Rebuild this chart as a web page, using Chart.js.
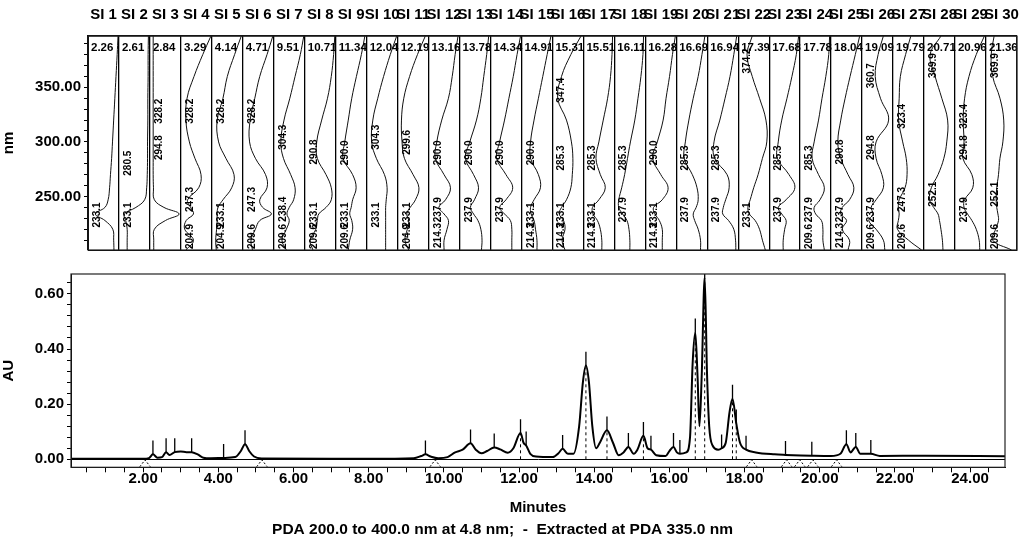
<!DOCTYPE html>
<html>
<head>
<meta charset="utf-8">
<script src="https://cdn.jsdelivr.net/npm/chart.js@4.4.1/dist/chart.umd.min.js"></script>
<style>
  html, body { margin: 0; padding: 0; background: #fff; }
  #wrap { position: relative; width: 1023px; height: 542px; }
  #top { position: absolute; left: 0; top: 0; width: 1023px; height: 262px; }
  #bottom { position: absolute; left: 0; top: 262px; width: 1023px; height: 280px; }
</style>
</head>
<body>
<div id="wrap">
  <div id="top"><canvas id="spec"></canvas></div>
  <div id="bottom"><canvas id="chrom"></canvas></div>
</div>
<script>
// retention times of the 30 integrated peaks (also the spectrum boxes)
const peakTimes = [2.26, 2.61, 2.84, 3.29, 4.14, 4.71, 9.51, 10.71, 11.34, 12.04,
  12.19, 13.16, 13.78, 14.34, 14.91, 15.31, 15.51, 16.11, 16.28, 16.69,
  16.94, 17.39, 17.68, 17.78, 18.04, 19.09, 19.79, 20.71, 20.96, 21.36];
// trace height at each peak
const peakAU = [0.018, 0.026, 0.026, 0.026, 0.005, 0.055, 0.018, 0.058, 0.043, 0.095,
  0.05, 0.038, 0.34, 0.105, 0.045, 0.085, 0.035, 0.045, 0.02, 0.46,
  0.66, 0.04, 0.22, 0.13, 0.035, 0.016, 0.013, 0.055, 0.045, 0.02];
const siLabels = peakTimes.map((t, i) => "SI " + (i + 1));

// chromatogram (minutes, AU)
const traceTime = [0.08, 2.0, 2.15, 2.26, 2.38, 2.5, 2.61, 2.7, 2.84, 3.0,
  3.15, 3.29, 3.45, 3.6, 3.8, 4.14, 4.45, 4.6, 4.71, 4.82,
  4.95, 5.15, 7.0, 8.0, 9.2, 9.4, 9.51, 9.65, 9.85, 10.1,
  10.3, 10.5, 10.71, 10.85, 11.0, 11.15, 11.34, 11.5, 11.7, 11.85,
  12.04, 12.12, 12.19, 12.3, 12.45, 12.9, 13.05, 13.16, 13.3, 13.45,
  13.6, 13.7, 13.78, 13.86, 13.95, 14.05, 14.15, 14.34, 14.5, 14.65,
  14.78, 14.91, 15.05, 15.15, 15.31, 15.42, 15.51, 15.65, 15.9, 16.0,
  16.11, 16.2, 16.28, 16.45, 16.55, 16.62, 16.69, 16.75, 16.8, 16.86,
  16.94, 17.0, 17.06, 17.15, 17.3, 17.39, 17.5, 17.6, 17.68, 17.78,
  17.88, 18.04, 18.3, 18.8, 19.09, 19.5, 19.79, 20.3, 20.55, 20.71,
  20.82, 20.96, 21.08, 21.36, 21.6, 22.8, 24.93];
const traceAU = [0.002, 0.002, 0.004, 0.018, 0.006, 0.008, 0.026, 0.016, 0.026, 0.028,
  0.026, 0.026, 0.018, 0.006, 0.004, 0.005, 0.008, 0.03, 0.055, 0.03,
  0.01, 0.003, 0.002, 0.002, 0.004, 0.012, 0.018, 0.01, 0.004, 0.008,
  0.025, 0.035, 0.058, 0.035, 0.022, 0.03, 0.043, 0.036, 0.024, 0.04,
  0.095, 0.06, 0.05, 0.02, 0.01, 0.008, 0.022, 0.038, 0.02, 0.02,
  0.12, 0.28, 0.34, 0.28, 0.12, 0.04, 0.06, 0.105, 0.06, 0.015,
  0.025, 0.045, 0.02, 0.035, 0.085, 0.04, 0.035, 0.015, 0.012, 0.03,
  0.045, 0.025, 0.02, 0.025, 0.08, 0.35, 0.46, 0.3, 0.12, 0.3,
  0.66, 0.32, 0.12, 0.05, 0.035, 0.04, 0.06, 0.17, 0.22, 0.13,
  0.06, 0.035, 0.025, 0.018, 0.016, 0.014, 0.013, 0.012, 0.02, 0.055,
  0.025, 0.045, 0.02, 0.02, 0.012, 0.013, 0.011];

// dotted baseline triangles drawn under the zero line (centre times)
const baseMarkTimes = [2.05, 5.16, 9.77, 18.19, 19.12, 19.47, 19.82, 20.45];

// UV spectra: relative absorbance (0 = right edge of box, 1 = left edge) at these wavelengths
const specWl = [397, 380, 360, 340, 320, 300, 285, 270, 258, 247, 240, 234, 228, 220, 210, 201];
const spectra = [
  [0.00, 0.03, 0.07, 0.11, 0.15, 0.19, 0.22, 0.26, 0.29, 0.34, 0.45, 0.78, 0.45, 0.18, 0.15, 0.14],
  [0.02, 0.03, 0.03, 0.04, 0.04, 0.05, 0.05, 0.06, 0.08, 0.15, 0.45, 0.85, 0.80, 0.75, 0.75, 0.75],
  [0.92, 0.92, 0.92, 0.92, 0.92, 0.92, 0.92, 0.92, 0.91, 0.88, 0.55, 0.03, 0.50, 0.88, 0.90, 0.90],
  [0.00, 0.28, 0.58, 0.82, 0.86, 0.74, 0.55, 0.34, 0.42, 0.80, 0.70, 0.60, 0.85, 0.90, 0.60, 0.85],
  [0.02, 0.25, 0.50, 0.65, 0.85, 0.80, 0.55, 0.27, 0.35, 0.65, 0.82, 0.85, 0.85, 0.87, 0.90, 0.88],
  [0.00, 0.20, 0.45, 0.62, 0.78, 0.80, 0.60, 0.25, 0.20, 0.45, 0.35, 0.05, 0.45, 0.60, 0.75, 0.70],
  [0.00, 0.12, 0.30, 0.48, 0.68, 0.79, 0.70, 0.45, 0.30, 0.35, 0.50, 0.58, 0.50, 0.60, 0.75, 0.60],
  [0.00, 0.04, 0.12, 0.25, 0.45, 0.62, 0.60, 0.30, 0.12, 0.12, 0.30, 0.55, 0.60, 0.65, 0.85, 0.75],
  [0.03, 0.15, 0.32, 0.48, 0.60, 0.72, 0.78, 0.45, 0.33, 0.45, 0.50, 0.55, 0.48, 0.45, 0.55, 0.60],
  [0.00, 0.22, 0.45, 0.65, 0.82, 0.86, 0.70, 0.42, 0.33, 0.36, 0.38, 0.38, 0.38, 0.38, 0.38, 0.38],
  [0.08, 0.35, 0.62, 0.82, 0.90, 0.88, 0.80, 0.50, 0.30, 0.42, 0.60, 0.72, 0.65, 0.70, 0.78, 0.65],
  [0.02, 0.12, 0.22, 0.35, 0.58, 0.75, 0.80, 0.50, 0.28, 0.45, 0.68, 0.50, 0.35, 0.40, 0.50, 0.50],
  [0.03, 0.10, 0.20, 0.30, 0.45, 0.68, 0.83, 0.55, 0.38, 0.52, 0.66, 0.55, 0.40, 0.30, 0.26, 0.28],
  [0.00, 0.12, 0.25, 0.40, 0.55, 0.72, 0.82, 0.50, 0.27, 0.50, 0.72, 0.55, 0.35, 0.30, 0.30, 0.30],
  [0.02, 0.15, 0.30, 0.45, 0.60, 0.72, 0.72, 0.45, 0.38, 0.60, 0.72, 0.70, 0.60, 0.55, 0.50, 0.50],
  [0.05, 0.40, 0.72, 0.85, 0.55, 0.38, 0.33, 0.35, 0.40, 0.55, 0.72, 0.80, 0.65, 0.60, 0.70, 0.60],
  [0.03, 0.05, 0.10, 0.20, 0.35, 0.50, 0.60, 0.45, 0.28, 0.50, 0.72, 0.70, 0.55, 0.45, 0.40, 0.40],
  [0.03, 0.05, 0.12, 0.22, 0.33, 0.48, 0.58, 0.68, 0.78, 0.88, 0.88, 0.75, 0.60, 0.53, 0.50, 0.50],
  [0.00, 0.10, 0.20, 0.32, 0.42, 0.62, 0.78, 0.50, 0.25, 0.45, 0.75, 0.70, 0.55, 0.45, 0.45, 0.45],
  [0.05, 0.15, 0.28, 0.45, 0.60, 0.72, 0.76, 0.48, 0.32, 0.28, 0.35, 0.45, 0.40, 0.28, 0.20, 0.20],
  [0.02, 0.12, 0.25, 0.42, 0.60, 0.80, 0.78, 0.35, 0.28, 0.40, 0.48, 0.50, 0.30, 0.12, 0.06, 0.05],
  [0.55, 0.73, 0.55, 0.30, 0.08, 0.05, 0.20, 0.35, 0.50, 0.62, 0.70, 0.65, 0.45, 0.30, 0.20, 0.10],
  [0.02, 0.10, 0.25, 0.42, 0.60, 0.72, 0.75, 0.35, 0.15, 0.45, 0.72, 0.60, 0.45, 0.50, 0.55, 0.55],
  [0.02, 0.05, 0.15, 0.28, 0.40, 0.55, 0.62, 0.40, 0.20, 0.35, 0.55, 0.50, 0.30, 0.25, 0.25, 0.20],
  [0.05, 0.20, 0.38, 0.55, 0.70, 0.80, 0.70, 0.45, 0.25, 0.40, 0.65, 0.70, 0.50, 0.65, 0.40, 0.45],
  [0.30, 0.48, 0.58, 0.40, 0.12, 0.55, 0.55, 0.35, 0.30, 0.55, 0.72, 0.65, 0.80, 0.55, 0.30, 0.25],
  [0.42, 0.60, 0.78, 0.82, 0.84, 0.70, 0.58, 0.55, 0.62, 0.82, 0.85, 0.82, 0.85, 0.88, 0.50, 0.05],
  [0.45, 0.82, 0.65, 0.42, 0.22, 0.25, 0.35, 0.55, 0.78, 0.84, 0.70, 0.55, 0.50, 0.45, 0.40, 0.38],
  [0.02, 0.30, 0.55, 0.70, 0.75, 0.72, 0.76, 0.45, 0.42, 0.70, 0.72, 0.60, 0.45, 0.30, 0.20, 0.18],
  [0.75, 0.85, 0.80, 0.55, 0.42, 0.45, 0.55, 0.60, 0.66, 0.68, 0.66, 0.62, 0.60, 0.70, 0.80, 0.15]
];
// lambda max / min labels printed in each box
const lambdaLabels = [
  ["233.1"], ["280.5", "233.1"], ["328.2", "294.8"], ["328.2", "247.3", "204.9"],
  ["328.2", "233.1", "204.9"], ["328.2", "247.3", "209.6"], ["304.3", "238.4", "209.6"],
  ["290.8", "233.1", "209.6"], ["290.0", "233.1", "209.6"], ["304.3", "233.1"],
  ["299.6", "233.1", "204.9"], ["290.0", "237.9", "214.3"], ["290.0", "237.9"],
  ["290.0", "237.9"], ["290.0", "233.1", "214.3"], ["347.4", "285.3", "233.1", "214.3"],
  ["285.3", "233.1", "214.3"], ["285.3", "237.9"], ["290.0", "233.1", "214.3"],
  ["285.3", "237.9"], ["285.3", "237.9"], ["374.2", "233.1"], ["285.3", "237.9"],
  ["285.3", "237.9", "209.6"], ["290.8", "237.9", "214.3"], ["360.7", "294.8", "237.9", "209.6"],
  ["323.4", "247.3", "209.6"], ["369.9", "252.1"], ["323.4", "294.8", "237.9"],
  ["369.9", "252.1", "209.6"]
];
const footer = "PDA 200.0 to 400.0 nm at 4.8 nm;  -  Extracted at PDA 335.0 nm";

const FONT = '"Liberation Sans", Arial, sans-serif';
Chart.defaults.font.family = FONT;
Chart.defaults.color = "#000";

function isMult(v, m) {
  return Math.abs(v / m - Math.round(v / m)) < 1e-6;
}

// frame round the plot area
const framePlugin = {
  id: "frame",
  afterDraw(chart) {
    const a = chart.chartArea;
    const ctx = chart.ctx;
    ctx.save();
    ctx.strokeStyle = "#222";
    ctx.lineWidth = 1.2;
    ctx.strokeRect(a.left, a.top, a.right - a.left, a.bottom - a.top);
    ctx.restore();
  }
};

// retention time and lambda labels inside the spectrum boxes
const boxLabels = {
  id: "boxLabels",
  afterDatasetsDraw(chart) {
    const { ctx, chartArea } = chart;
    const x = chart.scales.x;
    const y = chart.scales.y;
    ctx.save();
    ctx.fillStyle = "#000";
    ctx.font = "bold 11.5px " + FONT;
    ctx.textAlign = "left";
    ctx.textBaseline = "top";
    peakTimes.forEach((t, i) => {
      ctx.fillText(t.toFixed(2), x.getPixelForValue(i) + 3, chartArea.top + 6);
    });
    ctx.font = "bold 10px " + FONT;
    ctx.textAlign = "center";
    ctx.textBaseline = "middle";
    lambdaLabels.forEach((list, i) => {
      list.forEach((lbl) => {
        const w = ctx.measureText(lbl).width;
        let cy = y.getPixelForValue(parseFloat(lbl));
        cy = Math.max(cy, chartArea.top + w / 2 + 2);
        cy = Math.min(cy, chartArea.bottom - w / 2 - 1);
        ctx.save();
        ctx.translate(x.getPixelForValue(i + 0.3), cy);
        ctx.rotate(-Math.PI / 2);
        ctx.fillText(lbl, 0, 0);
        ctx.restore();
      });
    });
    ctx.restore();
  }
};

const specDatasets = spectra.map((vals, i) => ({
  data: vals.map((a, k) => ({ x: i + 0.97 - a * 0.94, y: specWl[k] })),
  borderColor: "#111",
  borderWidth: 1,
  pointRadius: 0,
  tension: 0.4,
  fill: false
}));

new Chart(document.getElementById("spec"), {
  type: "line",
  data: { datasets: specDatasets },
  options: {
    animation: false,
    responsive: true,
    maintainAspectRatio: false,
    layout: { padding: { left: 0, right: 5, top: 0, bottom: 3 } },
    plugins: { legend: { display: false }, tooltip: { enabled: false } },
    scales: {
      x: {
        type: "linear",
        min: 0,
        max: 30,
        position: "bottom",
        ticks: { display: false, stepSize: 1 },
        grid: { color: "#000", lineWidth: 1.3, drawTicks: false },
        border: { display: true, color: "#000" },
        afterFit(s) { s.height = 0; }
      },
      xs: {
        type: "category",
        labels: siLabels,
        position: "top",
        offset: true,
        grid: { display: false },
        border: { display: true, color: "#000", width: 1.5 },
        ticks: { autoSkip: false, maxRotation: 0, padding: 4, font: { size: 15, weight: "bold" } },
        afterFit(s) { s.height = 36; }
      },
      y: {
        type: "linear",
        min: 201,
        max: 397,
        ticks: {
          stepSize: 10,
          includeBounds: false,
          autoSkip: false,
          padding: 3,
          font: { size: 15, weight: "bold" },
          callback: (v) => (isMult(v, 50) ? v.toFixed(2) : "")
        },
        grid: { drawOnChartArea: false, tickLength: 4, color: "#000" },
        border: { color: "#000" },
        title: { display: true, text: "nm", font: { size: 15, weight: "bold" }, padding: { top: 0, bottom: 0 } },
        afterFit(s) { s.width = 88; }
      }
    }
  },
  plugins: [framePlugin, boxLabels]
});

// dashed drop lines on the larger peaks
const dropData = [];
peakTimes.forEach((t, i) => {
  if (peakAU[i] > 0.08) {
    dropData.push({ x: t, y: 0 }, { x: t, y: peakAU[i] }, { x: t, y: null });
  }
});
// dotted baseline triangles
const triData = [];
baseMarkTimes.forEach((t) => {
  triData.push({ x: t - 0.14, y: -0.027 }, { x: t, y: -0.002 }, { x: t + 0.14, y: -0.027 }, { x: t, y: null });
});

new Chart(document.getElementById("chrom"), {
  type: "line",
  data: {
    datasets: [
      {
        label: "trace",
        data: traceTime.map((t, i) => ({ x: t, y: traceAU[i] })),
        borderColor: "#000",
        borderWidth: 2,
        pointRadius: 0,
        cubicInterpolationMode: "monotone"
      },
      {
        label: "marks",
        type: "scatter",
        data: peakTimes.map((t, i) => ({ x: t, y: peakAU[i] + 0.025 })),
        pointStyle: "line",
        rotation: 90,
        radius: 7,
        borderColor: "#000",
        borderWidth: 1.3
      },
      {
        label: "drops",
        data: dropData,
        borderColor: "#000",
        borderWidth: 1,
        borderDash: [3, 3],
        pointRadius: 0,
        spanGaps: false
      },
      {
        label: "baseline",
        data: triData,
        borderColor: "#000",
        borderWidth: 1,
        borderDash: [2, 2],
        pointRadius: 0,
        spanGaps: false
      }
    ]
  },
  options: {
    animation: false,
    responsive: true,
    maintainAspectRatio: false,
    layout: { padding: { left: 0, right: 18, top: 10, bottom: 0 } },
    plugins: {
      legend: { display: false },
      tooltip: { enabled: false },
      title: {
        display: true,
        position: "bottom",
        text: footer,
        font: { size: 15.5, weight: "bold" },
        padding: { top: 1, bottom: 2.5 }
      }
    },
    scales: {
      x: {
        type: "linear",
        min: 0.08,
        max: 24.93,
        ticks: {
          stepSize: 0.5,
          includeBounds: false,
          autoSkip: false,
          maxRotation: 0,
          padding: -2,
          font: { size: 15, weight: "bold" },
          callback: (v) => (isMult(v, 2) ? v.toFixed(2) : "")
        },
        grid: { drawOnChartArea: false, tickLength: 5, color: "#000" },
        border: { color: "#000" },
        title: { display: true, text: "Minutes", font: { size: 15, weight: "bold" }, padding: { top: 2, bottom: 3.5 } },
        afterFit(s) { s.height = 52.6; }
      },
      y: {
        type: "linear",
        min: -0.029,
        max: 0.672,
        ticks: {
          stepSize: 0.04,
          includeBounds: false,
          autoSkip: false,
          padding: 3,
          font: { size: 15, weight: "bold" },
          callback: (v) => (isMult(v, 0.2) ? v.toFixed(2) : "")
        },
        grid: {
          color: (c) => (c.tick && Math.abs(c.tick.value) < 1e-9 ? "#000" : "rgba(0,0,0,0)"),
          tickColor: "#000",
          tickLength: 4
        },
        border: { color: "#000" },
        title: { display: true, text: "AU", font: { size: 15, weight: "bold" }, padding: { top: 0, bottom: 0 } },
        afterFit(s) { s.width = 71; }
      }
    }
  },
  plugins: [framePlugin]
});
</script>
</body>
</html>
